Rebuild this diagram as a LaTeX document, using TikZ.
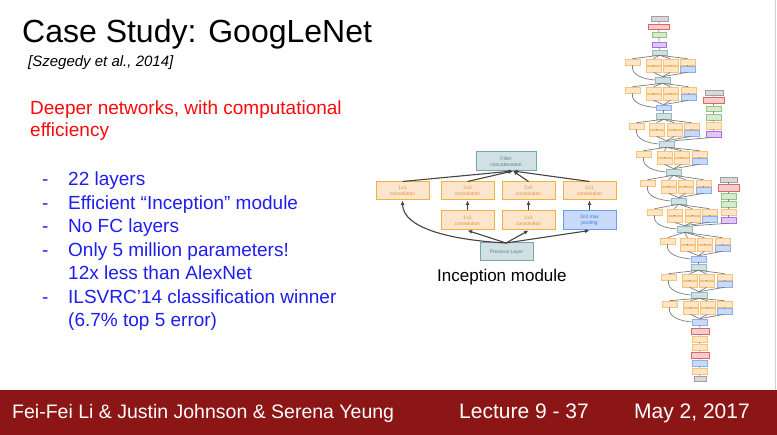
\documentclass[tikz,border=0pt]{standalone}
\usepackage{fontspec}
\setmainfont{Liberation Sans}
\usetikzlibrary{arrows.meta}
\definecolor{band}{RGB}{140,21,21}
\definecolor{txtblue}{RGB}{30,30,240}
\definecolor{txtred}{RGB}{250,10,10}
\definecolor{iorgF}{RGB}{252,229,205}
\definecolor{iorgB}{RGB}{244,176,62}
\definecolor{iorgT}{RGB}{228,146,60}
\definecolor{iblF}{RGB}{201,218,248}
\definecolor{iblB}{RGB}{109,158,235}
\definecolor{iblT}{RGB}{60,120,216}
\definecolor{iteF}{RGB}{208,224,227}
\definecolor{iteB}{RGB}{118,165,175}
\definecolor{iteT}{RGB}{80,135,148}
\definecolor{iarrC}{RGB}{67,67,67}
\definecolor{sorF}{RGB}{253,230,200}
\definecolor{sorB}{RGB}{247,195,120}
\definecolor{sblF}{RGB}{201,218,248}
\definecolor{sblB}{RGB}{140,175,235}
\definecolor{steF}{RGB}{208,224,227}
\definecolor{steB}{RGB}{150,185,190}
\definecolor{sgrF}{RGB}{217,217,217}
\definecolor{sgrB}{RGB}{160,160,160}
\definecolor{sreF}{RGB}{244,204,204}
\definecolor{sreB}{RGB}{224,102,102}
\definecolor{sgnF}{RGB}{217,234,211}
\definecolor{sgnB}{RGB}{147,196,125}
\definecolor{spuF}{RGB}{222,200,246}
\definecolor{spuB}{RGB}{170,110,230}
\definecolor{slineC}{RGB}{125,125,125}
\newcommand\bx[7]{\node[#1, minimum width={(#5-#3)*1pt}, minimum height={(#6-#4)*1pt}] (#2) at ({(#3+#5)/2},{(#4+#6)/2}) {#7};}
% inception module of the small network
% #1 prefix, #2 row1 top, #3 row2 top, #4-#7 column lefts, #8 input node, #9 output node
\newcommand\incmod[9]{%
  \bx{sor}{#1a}{#4}{#2}{#4+15}{#2+6}{}
  \bx{sor}{#1b}{#5}{#2}{#5+15}{#2+6}{}
  \bx{sor}{#1c}{#6}{#2}{#6+15}{#2+6}{}
  \bx{sor}{#1d}{#7}{#2}{#7+15}{#2+6}{}
  \bx{sor}{#1f}{#5}{#3}{#5+15}{#3+6}{}
  \bx{sor}{#1g}{#6}{#3}{#6+15}{#3+6}{}
  \bx{sbl}{#1h}{#7}{#3}{#7+15}{#3+6}{}
  \draw[sline] (#1a.north) -- (#9.south);
  \draw[sline] (#1b.north) -- (#9.south);
  \draw[sline] (#1c.north) -- (#9.south);
  \draw[sline] (#1d.north) -- (#9.south);
  \draw[sline] (#1f.north) -- (#1b.south);
  \draw[sline] (#1g.north) -- (#1c.south);
  \draw[sline] (#1h.north) -- (#1d.south);
  \draw[sline] (#8.north) -- (#1f.south);
  \draw[sline] (#8.north) -- (#1g.south);
  \draw[sline] (#8.north) -- (#1h.south);
  \draw[sline] (#1a.south) to[out=-100,in=175] (#8.west);
}
\begin{document}
\begin{tikzpicture}[x=1pt,y=-1pt,
  ibox/.style={draw, line width=1pt, inner sep=0pt, align=center, font=\fontsize{5}{5.8}\selectfont},
  iorange/.style={ibox, draw=iorgB, fill=iorgF, text=iorgT},
  iblue/.style={ibox, draw=iblB, fill=iblF, text=iblT},
  iteal/.style={ibox, draw=iteB, fill=iteF, text=iteT},
  iarr/.style={draw=iarrC, line width=1.1pt, -{Latex[length=4.5pt,width=4pt]}},
  sbox/.style={draw, line width=0.6pt, inner sep=0pt},
  sor/.style={sbox, draw=sorB, fill=sorF},
  sbl/.style={sbox, draw=sblB, fill=sblF},
  ste/.style={sbox, draw=steB, fill=steF},
  sgr/.style={sbox, draw=sgrB, fill=sgrF},
  sre/.style={sbox, draw=sreB, fill=sreF},
  sgn/.style={sbox, draw=sgnB, fill=sgnF},
  spu/.style={sbox, draw=spuB, fill=spuF},
  sline/.style={draw=slineC, line width=0.7pt},
  txt/.style={anchor=base west, inner sep=0pt},
  bl/.style={txt, text=txtblue, font=\fontsize{19}{23}\selectfont},
  foot/.style={txt, text=white}
]
\useasboundingbox (0,0) rectangle (777,435);
\fill[white] (0,0) rectangle (777,435);
% footer band
\fill[band] (0,390) rectangle (777,435);
\draw[gray!35, line width=0.8pt] (775,0) -- (775,390);

% texts
\node[txt, font=\fontsize{32}{38}\selectfont] (title) at (22,43) {Case Study: GoogLeNet};
\node[txt, font=\itshape\fontsize{15}{18}\selectfont] (cite) at (28,67) {[Szegedy et al., 2014]};
\node[txt, text=txtred, font=\fontsize{19}{23}\selectfont] (red1) at (30,115) {Deeper networks, with computational};
\node[txt, text=txtred, font=\fontsize{19}{23}\selectfont] (red2) at (30,137) {efficiency};

\node[bl] (d1) at (42,186) {-};
\node[bl] (l1) at (68,186) {22 layers};
\node[bl] (d2) at (42,209.5) {-};
\node[bl] (l2) at (68,209.5) {Efficient “Inception” module};
\node[bl] (d3) at (42,233) {-};
\node[bl] (l3) at (68,233) {No FC layers};
\node[bl] (d4) at (42,256.5) {-};
\node[bl] (l4) at (68,256.5) {Only 5 million parameters!};
\node[bl] (l5) at (68,280) {12x less than AlexNet};
\node[bl] (d6) at (42,303.5) {-};
\node[bl] (l6) at (68,303.5) {ILSVRC’14 classification winner};
\node[bl] (l7) at (68,327) {(6.7\% top 5 error)};

\node[foot, font=\fontsize{19.5}{23}\selectfont] (f1) at (12,419) {Fei-Fei Li \& Justin Johnson \& Serena Yeung};
\node[foot, font=\fontsize{21}{25}\selectfont] (f2) at (459,419) {Lecture 9 - 37};
\node[foot, font=\fontsize{21}{25}\selectfont] (f3) at (634,419) {May 2, 2017};

% inception module
\bx{iteal}{fc}{476}{152}{536}{171}{Filter\\concatenation}
\bx{iorange}{a1}{376}{182}{429}{200}{1x1\\convolution}
\bx{iorange}{a2}{441}{182}{494}{200}{3x3\\convolution}
\bx{iorange}{a3}{502}{182}{555}{200}{5x5\\convolution}
\bx{iorange}{a4}{563}{182}{616}{200}{1x1\\convolution}
\bx{iorange}{b2}{441}{211}{494}{230}{1x1\\convolution}
\bx{iorange}{b3}{502}{211}{555}{230}{1x1\\convolution}
\bx{iblue}{b4}{563}{211}{616}{230}{3x3 max\\pooling}
\bx{iteal}{pl}{480}{243}{533}{261}{Previous Layer}
\coordinate (fcin) at (513,171);
\coordinate (plout) at (506,243);
\draw[iarr] (a1.north) -- (fcin);
\draw[iarr] (a2.north) -- (fcin);
\draw[iarr] (a3.north) -- (fcin);
\draw[iarr] (a4.north) -- (fcin);
\draw[iarr] (b2.north) -- (a2.south);
\draw[iarr] (b3.north) -- (a3.south);
\draw[iarr] (b4.north) -- (a4.south);
\draw[iarr] (plout) -- (b2.south);
\draw[iarr] (plout) -- (b3.south);
\draw[iarr] (plout) -- (b4.south);
\draw[iarr] (plout) .. controls (450,240) and (403,228) .. (a1.south);
\node[txt, font=\fontsize{17}{20}\selectfont] (icap) at (437,282) {Inception module};

% small GoogLeNet
\bx{sgr}{g1}{651}{16}{668}{21}{}
\bx{sre}{r1}{648}{24}{669}{29}{}
\bx{sgn}{n1}{652}{32}{666}{37}{}
\bx{spu}{u1}{652}{42}{666}{47}{}
\bx{ste}{t0}{652}{50}{667}{55}{}
\bx{ste}{t1}{655}{77}{670}{83}{}
\bx{sbl}{p1}{656}{105}{671}{110}{}
\bx{ste}{t2}{656}{113}{671}{119}{}
\bx{ste}{t3}{659}{141}{674}{147}{}
\bx{ste}{t4}{666}{169}{681}{175}{}
\bx{ste}{t5}{671}{198}{686}{204}{}
\bx{ste}{t6}{677}{226}{692}{232}{}
\bx{sbl}{p2}{691}{256}{706}{262}{}
\bx{ste}{t7}{691}{264}{706}{270}{}
\bx{ste}{t8}{691}{292}{707}{298}{}
\bx{sbl}{p3}{692}{319}{707}{325}{}
\bx{sre}{r2}{691}{328}{709}{334}{}
\bx{sor}{o1}{692}{336}{707}{342}{}
\bx{sor}{o2}{692}{344}{707}{350}{}
\bx{sre}{r3}{691}{352}{709}{358}{}
\bx{sbl}{p4}{692}{360}{707}{366}{}
\bx{sor}{o3}{692}{368}{707}{374}{}
\bx{sgr}{g2}{694}{376}{706}{381}{}
\draw[sline] (g1) -- (r1) (r1) -- (n1) (n1) -- (u1) (u1) -- (t0);
\draw[sline] (t2) -- (p1) (t7) -- (p2);
\draw[sline] (p3) -- (r2) (r2) -- (o1) (o1) -- (o2) (o2) -- (r3) (r3) -- (p4) (p4) -- (o3) (o3) -- (g2);
\incmod{ma}{59}{66}{625}{646}{663}{680}{t1}{t0}
\incmod{mb}{87}{94}{625}{646}{663}{681}{p1}{t1}
\incmod{mc}{123}{130}{629}{649}{667}{684}{t3}{t2}
\incmod{md}{151}{158}{636}{657}{674}{692}{t4}{t3}
\incmod{me}{180}{187}{640}{661}{678}{696}{t5}{t4}
\incmod{mf}{209}{216}{647}{667}{685}{702}{t6}{t5}
\incmod{mg}{238}{245}{660}{680}{697}{715}{p2}{t6}
\incmod{mh}{274}{281}{661}{682}{699}{717}{t8}{t7}
\incmod{mi}{301}{308}{662}{683}{700}{717}{p3}{t8}
% auxiliary classifiers
\bx{sgr}{g3}{705}{90}{723}{95}{}
\bx{sre}{r4}{703}{97}{724}{103}{}
\bx{sgn}{n2}{706}{106}{721}{111}{}
\bx{sgn}{n3}{706}{114}{721}{120}{}
\bx{sor}{o4}{706}{122}{721}{129}{}
\bx{spu}{u2}{706}{131}{721}{137}{}
\draw[sline] (g3) -- (r4) (r4) -- (n2) (n2) -- (n3) (n3) -- (o4) (o4) -- (u2);
\draw[sline] (t3.north east) -- (u2.south);
\bx{sgr}{g4}{720}{177}{737}{182}{}
\bx{sre}{r5}{718}{184}{739}{191}{}
\bx{sgn}{n4}{721}{193}{736}{199}{}
\bx{sgn}{n5}{721}{201}{736}{207}{}
\bx{sor}{o5}{721}{209}{736}{215}{}
\bx{spu}{u3}{721}{217}{736}{223}{}
\draw[sline] (g4) -- (r5) (r5) -- (n4) (n4) -- (n5) (n5) -- (o5) (o5) -- (u3);
\draw[sline] (t6.north east) -- (u3.south);
\end{tikzpicture}
\end{document}
